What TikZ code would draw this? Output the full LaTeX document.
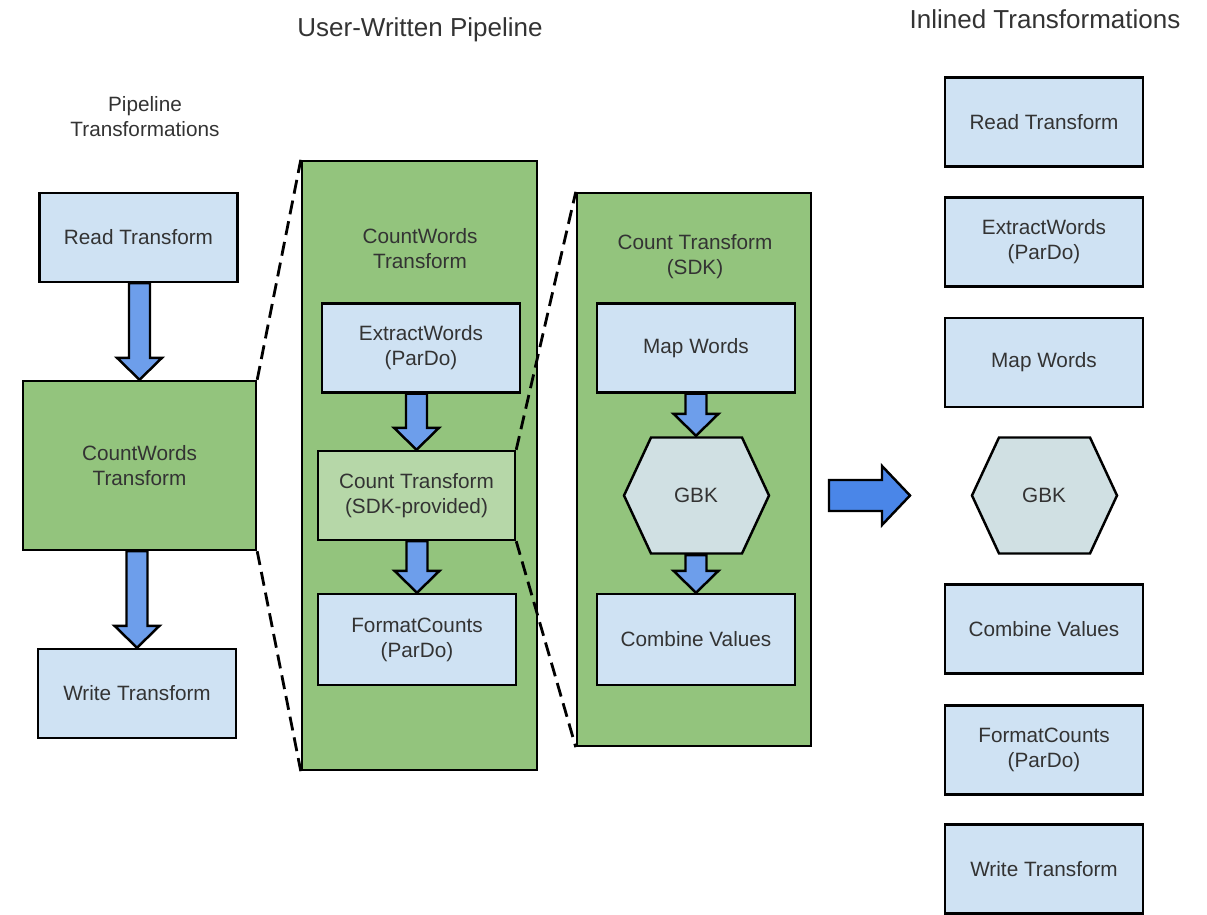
\documentclass[tikz,border=0pt]{standalone}
\usepackage{fontspec}
\setmainfont{Liberation Sans}
\usepackage{xcolor}
\usetikzlibrary{calc}

\definecolor{paleblue}{HTML}{CFE2F3}
\definecolor{leaf}{HTML}{93C47D}
\definecolor{paleleaf}{HTML}{B6D7A8}
\definecolor{hexgray}{HTML}{D0E0E3}
\definecolor{arrowblue}{HTML}{6D9EEB}
\definecolor{bigblue}{HTML}{4A86E8}

\begin{document}
\begin{tikzpicture}
  [x=0.02cm,y=-0.02cm,line width=1.4pt,
   every node/.style={inner sep=0pt,align=center,text=black!80,
     font=\fontsize{11.8}{14.2}\selectfont},
   title/.style={font=\fontsize{14.8}{17.5}\selectfont},
   tbox/.style={draw,fill=paleblue,minimum width=3.96cm,minimum height=1.78cm},
   cbox/.style={draw,fill=leaf},
   sbox/.style={draw,fill=paleleaf,minimum width=3.94cm,minimum height=1.78cm},
   hexa/.style={draw,fill=hexgray,line join=miter},
   gbkspot/.style={minimum width=2.9cm,minimum height=2.34cm},
   fat/.style={draw,fill=arrowblue,line join=miter},
   link/.style={dash pattern=on 8pt off 4pt,line width=1.6pt}]
  \useasboundingbox (0,0) rectangle (1207,915);

  % titles
  \node[title] (tuser) at (420,30) {User-Written Pipeline};
  \node (tpipe) at (145,117) {Pipeline\\Transformations};
  \node[title] (tinl) at (1045,19) {Inlined Transformations};

  % containers
  \node[cbox,minimum width=4.7cm,minimum height=12.18cm] (mid) at (419.5,465.5) {};
  \node[cbox,minimum width=4.68cm,minimum height=11.06cm] (sdk) at (694,469.5) {};
  \node (midlbl) at (420,249) {CountWords\\Transform};
  \node (sdklbl) at (695,257) {Count Transform\\(SDK)};

  % hexagons
  \foreach \c in {696,1044}
    \draw[hexa] (\c-72,495.5) -- ++(27,-58) -- ++(91,0) -- ++(27,58)
      -- ++(-27,58) -- ++(-91,0) -- cycle;

  % left column
  \node[tbox] (read) at (138.5,237.5) {Read Transform};
  \node[cbox,minimum width=4.66cm,minimum height=3.38cm] (cwl) at (139.5,465.5) {CountWords\\Transform};
  \node[tbox] (write) at (137,693.5) {Write Transform};

  % middle column
  \node[tbox] (extract) at (421,348) {ExtractWords\\(ParDo)};
  \node[sbox] (count) at (416.5,495.5) {Count Transform\\(SDK-provided)};
  \node[tbox,minimum height=1.82cm] (format) at (417,639.5) {FormatCounts\\(ParDo)};

  % sdk column
  \node[tbox] (map) at (696,348) {Map Words};
  \node[gbkspot] (gbk) at (696,495.5) {GBK};
  \node[tbox,minimum height=1.82cm] (combine) at (696,639.5) {Combine Values};

  % inlined column
  \node[tbox] (iread) at (1044,122) {Read Transform};
  \node[tbox] (iextract) at (1044,242) {ExtractWords\\(ParDo)};
  \node[tbox] (imap) at (1044,362.5) {Map Words};
  \node[gbkspot] (igbk) at (1044,495.5) {GBK};
  \node[tbox] (icombine) at (1044,629) {Combine Values};
  \node[tbox] (iformat) at (1044,750) {FormatCounts\\(ParDo)};
  \node[tbox] (iwrite) at (1044,869) {Write Transform};

  % zoom lines
  \draw[link] (cwl.north east) -- (mid.north west);
  \draw[link] (cwl.south east) -- (mid.south west);
  \draw[link] (count.north east) -- (sdk.north west);
  \draw[link] (count.south east) -- (sdk.south west);

  % flow arrows
  \foreach \from/\to in {read/cwl,cwl/write,extract/count,count/format,map/gbk,gbk/combine}
    \draw[fat] ($(\to.north |- \from.south)+(-10.5,0)$) -- ($(\to.north)+(-10.5,-22)$)
      -- ($(\to.north)+(-22.5,-22)$) -- (\to.north) -- ($(\to.north)+(22.5,-22)$)
      -- ($(\to.north)+(10.5,-22)$) -- ($(\to.north |- \from.south)+(10.5,0)$) -- cycle;

  % inlining arrow
  \draw[fat,fill=bigblue] (829,480) -- (882,480) -- (882,466) -- (910,495.5)
    -- (882,525) -- (882,511) -- (829,511) -- cycle;

\end{tikzpicture}
\end{document}
